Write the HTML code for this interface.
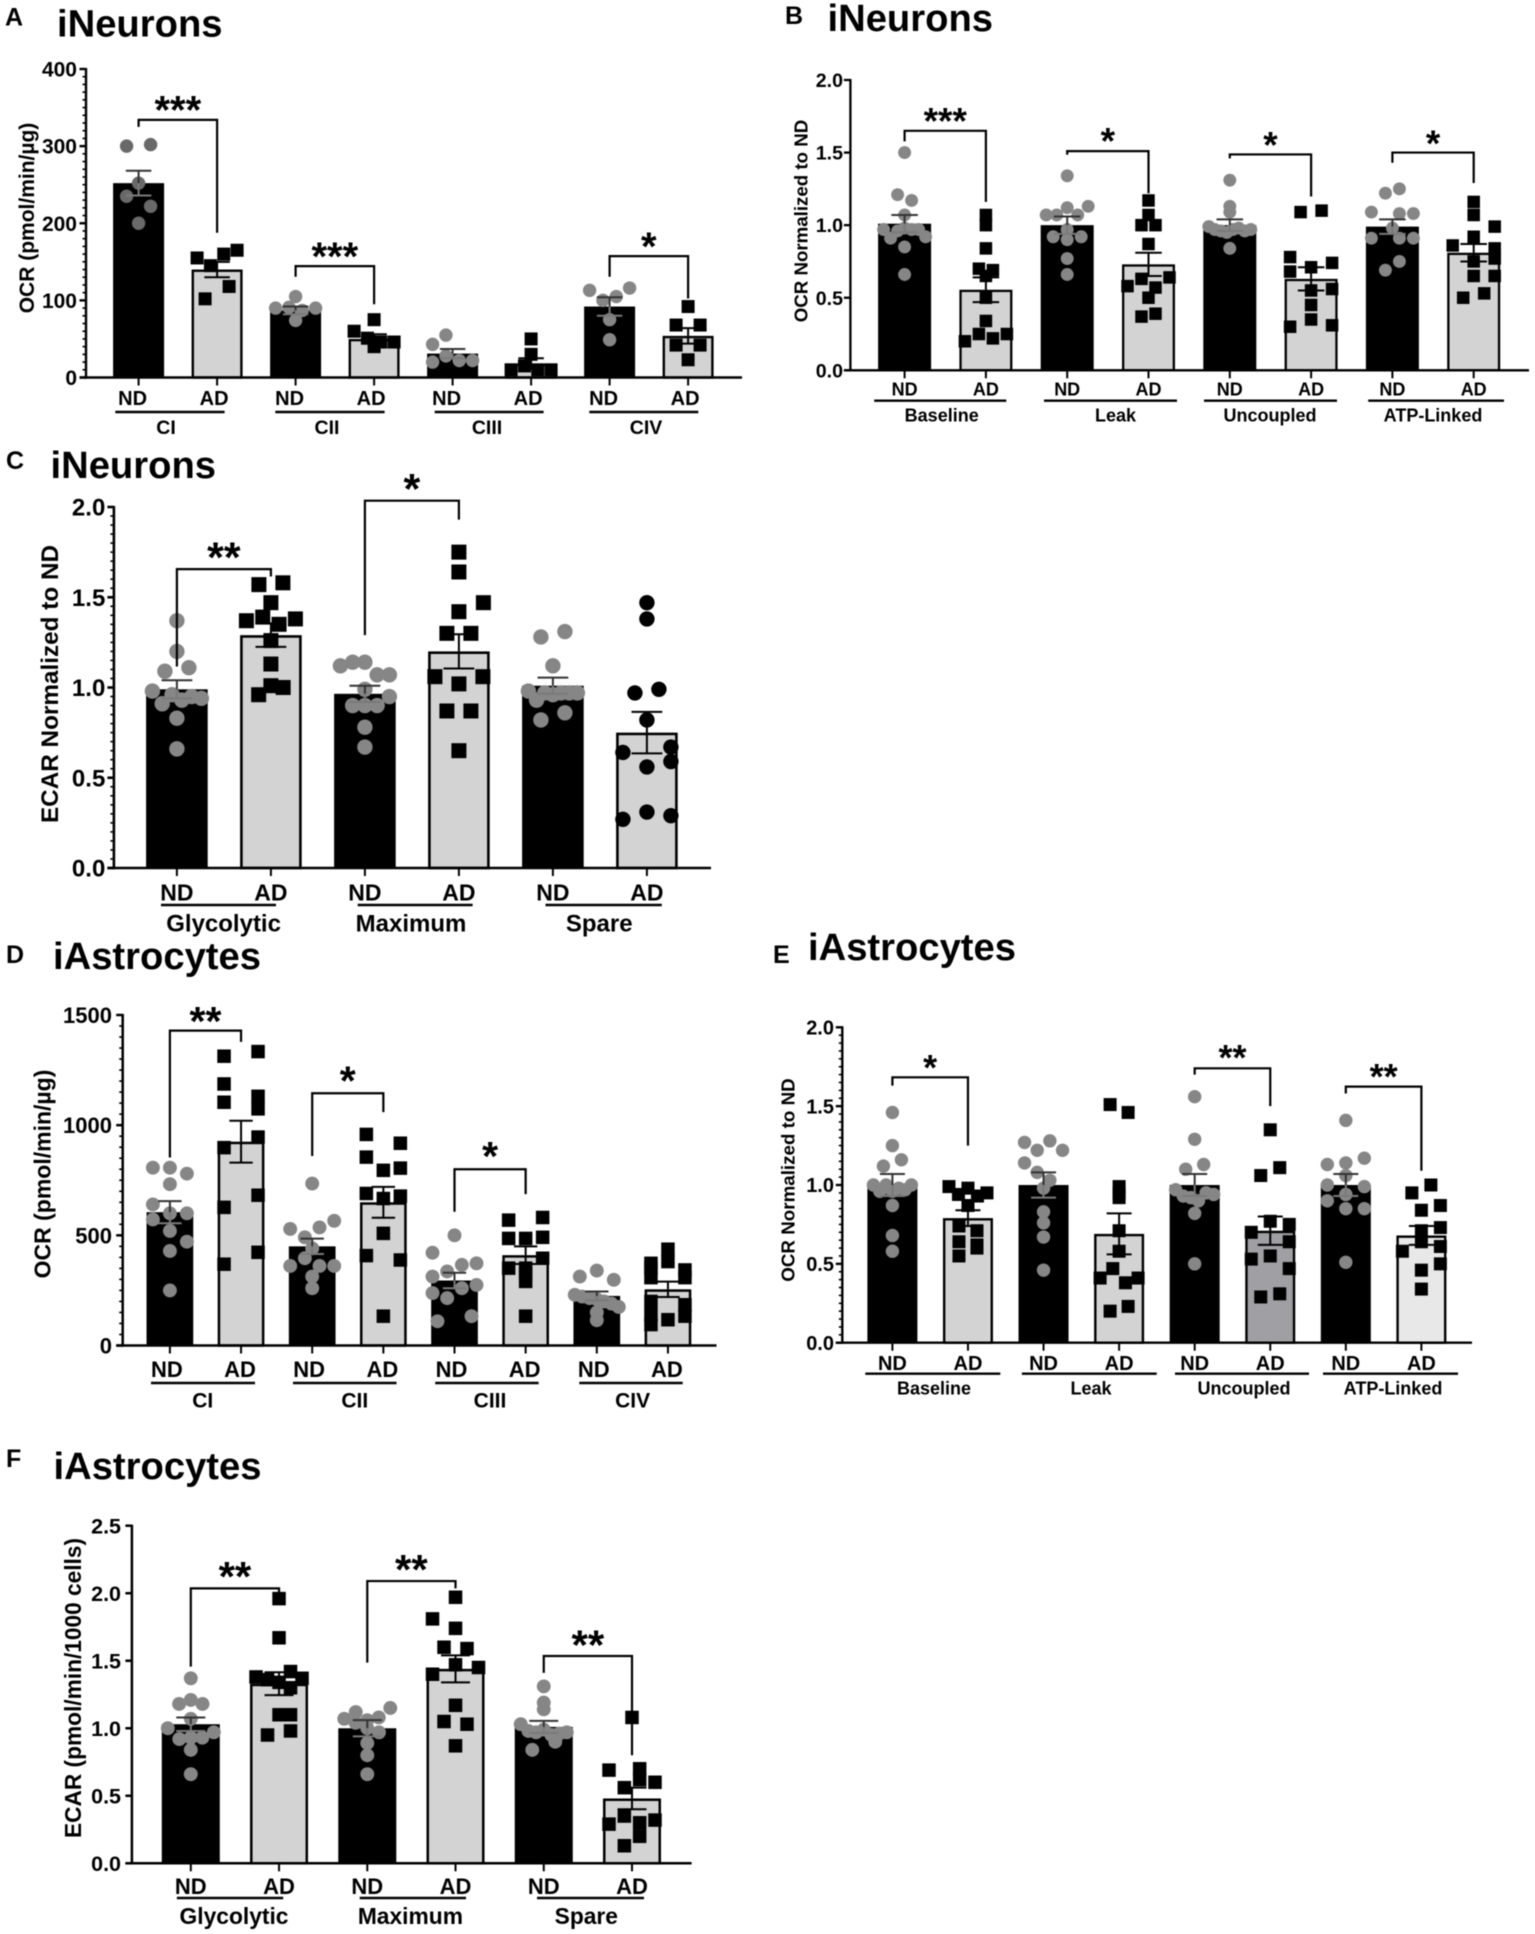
<!DOCTYPE html>
<html lang="en">
<head>
<meta charset="utf-8">
<title>iNeurons and iAstrocytes OCR / ECAR bar charts</title>
<style>
html,body{margin:0;padding:0;background:#fff;}
svg{display:block;font-family:"Liberation Sans",Arial,sans-serif;filter:blur(0.4px);}
text{fill:#000;}
.fig-title{font-weight:700;font-size:38.2px;}
.fig-letter{font-weight:700;font-size:25px;}
.y-title{font-weight:700;}
</style>
</head>
<body>
<svg id="figure" xmlns="http://www.w3.org/2000/svg" width="1535" height="1934" viewBox="0 0 1535 1934">
  <rect width="1535" height="1934" fill="#fff"/>
  <g id="panel-a">
    <text class="fig-letter" x="5" y="25.7">A</text>
    <text class="fig-title" x="57" y="36.7">iNeurons</text>
    <text class="y-title" font-size="21" text-anchor="middle" transform="translate(34,218) rotate(-90)">OCR (pmol/min/µg)</text>
  </g>
  <g id="panel-b">
    <text class="fig-letter" x="785" y="24">B</text>
    <text class="fig-title" x="827.5" y="31">iNeurons</text>
    <text class="y-title" font-size="18.7" text-anchor="middle" transform="translate(807.5,221) rotate(-90)">OCR Normalized to ND</text>
  </g>
  <g id="panel-c">
    <text class="fig-letter" x="6" y="469">C</text>
    <text class="fig-title" x="50.5" y="478">iNeurons</text>
    <text class="y-title" font-size="24.3" text-anchor="middle" transform="translate(58,684) rotate(-90)">ECAR Normalized to ND</text>
  </g>
  <g id="panel-d">
    <text class="fig-letter" x="6" y="963">D</text>
    <text class="fig-title" x="53" y="969">iAstrocytes</text>
    <text class="y-title" font-size="23" text-anchor="middle" transform="translate(50.5,1174) rotate(-90)">OCR (pmol/min/µg)</text>
  </g>
  <g id="panel-e">
    <text class="fig-letter" x="773" y="963">E</text>
    <text class="fig-title" x="808" y="960">iAstrocytes</text>
    <text class="y-title" font-size="18.8" text-anchor="middle" transform="translate(794.5,1180) rotate(-90)">OCR Normalized to ND</text>
  </g>
  <g id="panel-f">
    <text class="fig-letter" x="6" y="1467">F</text>
    <text class="fig-title" x="53.5" y="1479">iAstrocytes</text>
    <text class="y-title" font-size="22.7" text-anchor="middle" transform="translate(81,1688) rotate(-90)">ECAR (pmol/min/1000 cells)</text>
  </g>
</svg>
<script>
/* ---------- chart data ---------- */
const conditions = ['ND', 'AD'];

/* Points: one list per bar; each inner list is one swarm row of values (null = empty slot in that row). */
/* Brackets: [left bar, right bar, top value, left end value, right end value, stars, star value] */

const aGroups = ['CI', 'CII', 'CIII', 'CIV'];
const aTicks = [0, 100, 200, 300, 400];
const aTickLabels = ['0', '100', '200', '300', '400'];
const aMeans = [252, 140, 87, 50, 31, 18, 92, 54];
const aErrors = [16, 10, 5, 6, 6, 7, 12, 10];
const aPoints = [
  [[300, 302], [252], [235, 222], [200]],
  [[155, 145, 160, 165], [102, 118]],
  [[105], [90, 91, 87, 90], [74]],
  [[75], [60, 51, 46, 46], [40]],
  [[43, 55, null, null], [20, 28, 22, 22]],
  [[50], [30], [10, 15, 10, 10]],
  [[113, 100, 105, 116], [75], [49]],
  [[92], [68, 68], [42, 42], [23]]
];
const aBrackets = [
  [0, 1, 334, 325, 187.7, '***', 353],
  [2, 3, 144.4, 130.6, 95, '***', 163],
  [6, 7, 157.4, 130.6, 102.5, '*', 176]
];

const bGroups = ['Baseline', 'Leak', 'Uncoupled', 'ATP-Linked'];
const bTicks = [0, 0.5, 1, 1.5, 2];
const bTickLabels = ['0.0', '0.5', '1.0', '1.5', '2.0'];
const bMeans = [1.01, 0.555, 1.0, 0.73, 1.0, 0.63, 0.99, 0.81];
const bErrors = [0.06, 0.085, 0.06, 0.08, 0.04, 0.08, 0.05, 0.06];
const bPoints = [
  [[1.5], [1.21, 1.17], [1.07], [0.97, 0.91, 0.96, 0.98, 0.97, 0.97, 0.92], [0.85], [0.66]],
  [[1.07], [1.0], [0.84], [0.70, 0.69], [0.65], [0.5], [0.34], [0.2, 0.25, 0.22, 0.25]],
  [[1.34], [1.07, 1.07, 1.12, 1.07, 1.13], [0.92, 0.97, 0.92], [0.90], [0.77], [0.66]],
  [[1.17], [1.07], [1.0, 1.0], [0.87], [0.58, 0.63, 0.57, 0.64], [0.5], [0.37, 0.39]],
  [[1.31], [1.13], [1.09], [0.99, 0.97, 0.96, 0.95, 0.97, 0.98, 0.96, 0.97], [0.84]],
  [[null, 1.09, null, 1.1, null], [0.78, null, 0.71, null, 0.74], [0.68, null, 0.55, null, 0.56], [0.45], [0.35], [0.30, null, null, null, 0.31]],
  [[1.22, 1.25], [1.09, null, 1.08, 1.08], [0.98], [0.91, null, 0.91, 0.91], [0.69, 0.75]],
  [[1.16], [1.07], [null, null, null, null, 0.99], [0.92], [0.86, null, null, null, 0.84], [null, null, 0.75, null, 0.77], [null, null, 0.65, null, 0.65], [null, 0.50, null, 0.53, null]]
];
const bBrackets = [
  [0, 1, 1.65, 1.577, 1.16, '***', 1.75],
  [2, 3, 1.51, 1.485, 1.22, '*', 1.61],
  [4, 5, 1.487, 1.46, 1.197, '*', 1.585],
  [6, 7, 1.5, 1.43, 1.29, '*', 1.595]
];

const cGroups = ['Glycolytic', 'Maximum', 'Spare'];
const cTicks = [0, 0.5, 1, 1.5, 2];
const cTickLabels = ['0.0', '0.5', '1.0', '1.5', '2.0'];
const cMeans = [0.99, 1.29, 0.965, 1.20, 1.01, 0.75];
const cErrors = [0.05, 0.065, 0.045, 0.095, 0.045, 0.115];
const cPoints = [
  [[1.37], [1.20], [1.09, 1.11], [0.98, 0.91, 0.96, 0.93, 0.95, 0.94], [0.83], [0.66]],
  [[1.57, 1.58], [1.47], [1.37, 1.39, 1.35, 1.38], [1.26], [1.13], [null, 0.96, 1.01, 1.0, null]],
  [[1.12, 1.14, 1.14, 1.07, 1.07], [0.99], [null, 0.9, 0.9, 0.9, 0.95], [0.78], [0.67]],
  [[1.75], [1.64], [null, null, 1.42, null, 1.47], [1.3, 1.3], [1.06, 1.02, 1.06], [0.87, 0.87], [0.65]],
  [[1.28, 1.31], [1.12], [0.98, 0.93, 0.97, 0.96, 0.97, 0.97, 0.97], [0.82, 0.86]],
  [[1.47], [1.38], [0.97, 0.99], [0.82], [0.64, null, 0.67], [null, 0.56, 0.59], [0.27, 0.31, 0.29]]
];
const cBrackets = [
  [0, 1, 1.656, 1.116, 1.615, '**', 1.75],
  [2, 3, 2.035, 1.29, 1.93, '*', 2.13]
];

const dGroups = ['CI', 'CII', 'CIII', 'CIV'];
const dTicks = [0, 500, 1000, 1500];
const dTickLabels = ['0', '500', '1000', '1500'];
const dMeans = [605, 925, 450, 650, 295, 410, 225, 255];
const dErrors = [50, 95, 35, 70, 35, 40, 20, 35];
const dPoints = [
  [[807, 807, 780], [732], [640, 600, 600], [572, 520, 471], [429], [250]],
  [[1313, 1334], [1187, 1131], [1104, 1074], [898, 946], [627, 682], [369, 423]],
  [[735], [529, 491, 536, 566], [441], [361, 396, 361, 361], [313], [260]],
  [[958, 918], [855, 795, 805], [690, 667, 678], [509], [408, 388], [133]],
  [[500], [421, null, null, 373], [313, 336, 366, 275], [238, 215, 260, null], [110, 133]],
  [[569, 581], [486, 486, 491], [351, 351, 396], [328], [291], [133]],
  [[340], [313, 298], [230, 222, 215, 210, 200, 190, 175], [150], [115]],
  [[437], [373, 381, null], [351, null, 343], [308, 308], [200, 185], [140, null, 133], [95, 117, null]]
];
const dBrackets = [
  [0, 1, 1429, 853, 1378, '**', 1495],
  [2, 3, 1145, 860, 1059, '*', 1225],
  [4, 5, 800, 607, 687, '*', 883]
];

const eGroups = ['Baseline', 'Leak', 'Uncoupled', 'ATP-Linked'];
const eTicks = [0, 0.5, 1, 1.5, 2];
const eTickLabels = ['0.0', '0.5', '1.0', '1.5', '2.0'];
const eMeans = [1.0, 0.79, 1.0, 0.69, 1.0, 0.71, 1.0, 0.68];
const eErrors = [0.07, 0.05, 0.08, 0.13, 0.07, 0.09, 0.07, 0.06];
const ePoints = [
  [[1.46], [1.25], [1.12, 1.16], [1.0, 0.96, 1.0, 0.96, 0.98, 0.97, 1.0], [0.87], [0.68], [0.58]],
  [[0.99, 0.94, 0.98, 0.93, 0.95], [0.87], [0.74, 0.71], [0.64, 0.60], [0.55, 0.62]],
  [[1.27, 1.22, 1.28, 1.22], [1.14, 1.08, 1.03, null], [0.98], [0.83], [0.76], [0.67], [0.46]],
  [[1.51, 1.46], [0.99], [0.95], [0.92], [0.71], [0.58], [0.41, 0.47, 0.38, 0.41], [0.2, 0.23]],
  [[1.56], [1.29], [1.1, 1.13], [0.97, 0.93, 0.92, 0.9, 0.95, 0.94], [0.82], [0.5]],
  [[1.35], [null, 1.06, null, 1.11, null], [null, null, 0.77, null, 0.75], [0.7, null, null, null, 0.64], [0.53, null, 0.55, null, 0.47], [null, 0.29, null, 0.31, null]],
  [[1.41], [1.13, 1.14, 1.17], [1.06], [1.0, 0.94, 0.99], [0.9, 0.85, 0.85], [0.51]],
  [[null, 0.95, null, 1.0, null], [null, null, 0.84, null, 0.87], [null, null, 0.71, null, 0.73], [0.58, null, 0.64, null, 0.61], [null, null, 0.46, null, 0.5], [0.34]]
];
const eBrackets = [
  [0, 1, 1.683, 1.63, 1.25, '*', 1.77],
  [4, 5, 1.74, 1.70, 1.50, '**', 1.835],
  [6, 7, 1.624, 1.58, 1.09, '**', 1.715]
];

const fGroups = ['Glycolytic', 'Maximum', 'Spare'];
const fTicks = [0, 0.5, 1, 1.5, 2, 2.5];
const fTickLabels = ['0.0', '0.5', '1.0', '1.5', '2.0', '2.5'];
const fMeans = [1.03, 1.33, 1.0, 1.44, 1.01, 0.48];
const fErrors = [0.05, 0.085, 0.06, 0.1, 0.045, 0.08];
const fPoints = [
  [[1.37], [1.18, 1.21, 1.18], [1.07], [1.0, 0.92, 0.93, 0.93, 0.97], [0.84], [0.66]],
  [[1.96], [1.67], [1.38, 1.36, 1.34, 1.42, 1.37], [null, null, null, 1.3, null], [null, null, 1.1, 1.1, null], [null, 0.95, null, 0.98, null]],
  [[1.07, 1.12, 1.06, 1.08, 1.15], [1.04, 1.0, 0.97], [0.89], [0.8], [0.66]],
  [[1.97], [1.81, null, 1.74, null, null], [null, 1.6, null, 1.59, null], [1.4, null, 1.47, null, 1.45], [1.17], [null, 1.05, null, 1.03, null], [0.87]],
  [[1.31], [1.19], [1.14], [1.03, 0.98, 0.97, 0.99, 0.95, 0.96, 0.97], [0.84, 0.9]],
  [[1.08], [0.69, null, 0.7, null], [null, 0.56, 0.62, 0.6], [0.29, 0.35, 0.3, 0.32], [null, null, 0.2, null], [null, 0.13, null, null]]
];
const fBrackets = [
  [0, 1, 2.036, 1.456, 2.0, '**', 2.16],
  [2, 3, 2.09, 1.486, 2.036, '**', 2.21],
  [4, 5, 1.535, 1.41, 0.80, '**', 1.654]
];

/* ---------- drawing ---------- */
const NS = 'http://www.w3.org/2000/svg';

function make(tag, attrs, parent) {
  const node = document.createElementNS(NS, tag);
  for (const key in attrs) node.setAttribute(key, attrs[key]);
  parent.appendChild(node);
  return node;
}

/* Horizontal offsets of a swarm row, centred on the bar. */
function rowOffsets(n, look) {
  if (n <= 1) return [0];
  if (n === 2) return [-look.pairHalf, look.pairHalf];
  const half = n === 3 ? look.tripleHalf : look.maxHalf;
  const out = [];
  for (let i = 0; i < n; i++) out.push(-half + (2 * half * i) / (n - 1));
  return out;
}

function drawPanel(panelId, series, look) {
  const root = document.getElementById(panelId);
  const yScale = v => look.y0 - (v / series.ticks[series.ticks.length - 1]) * (look.y0 - look.yTop);
  const xScale = i => look.barX0 + i * look.barStep;
  const halfSw = look.axisW / 2;

  /* bars */
  series.means.forEach((mean, i) => {
    const isAd = i % 2 === 1;
    const top = yScale(mean);
    const w = look.barW;
    const bar = make('rect', isAd
      ? { x: xScale(i) - w / 2 + halfSw, y: top + halfSw, width: w - look.axisW, height: look.y0 - top - halfSw, fill: (look.adFills && look.adFills[(i - 1) / 2]) || '#d3d3d3', stroke: '#000', 'stroke-width': look.axisW }
      : { x: xScale(i) - w / 2, y: top, width: w, height: look.y0 - top, fill: '#000' }, root);
    
    
  });

  /* points */
  series.points.forEach((rows, i) => {
    const isSquare = i % 2 === 1 && !(look.blackCircleBars || []).includes(i);
    rows.forEach(row => {
      const offsets = rowOffsets(row.length, look);
      row.forEach((value, k) => {
        if (value === null) return;
        const cx = xScale(i) + offsets[k];
        const cy = yScale(value);
        let mark;
        if (isSquare) {
          mark = make('rect', { x: cx - look.size / 2, y: cy - look.size / 2, width: look.size, height: look.size, fill: '#000' }, root);
        } else {
          const colour = i % 2 === 1 ? '#000' : ((look.darkBars || []).includes(i) ? '#696969' : '#868686');
          mark = make('circle', { cx: cx, cy: cy, r: look.size / 2 + 0.2, fill: colour }, root);
        }
        
        
      });
    });
  });

  /* error bars */
  series.means.forEach((mean, i) => {
    const cx = xScale(i);
    const cap = look.barW * 0.25;
    const err = series.errors[i];
    const lowColour = i % 2 === 0 ? '#7a7a7a' : '#000';
    const highColour = i % 2 === 0 ? '#333' : '#000';
    const group = make('g', { fill: 'none', 'stroke-width': 2 }, root);
    
    
    make('line', { x1: cx, x2: cx, y1: yScale(mean), y2: yScale(mean + err), stroke: highColour }, group);
    make('line', { x1: cx - cap, x2: cx + cap, y1: yScale(mean + err), y2: yScale(mean + err), stroke: highColour }, group);
    make('line', { x1: cx, x2: cx, y1: yScale(mean), y2: yScale(mean - err), stroke: lowColour }, group);
    make('line', { x1: cx - cap, x2: cx + cap, y1: yScale(mean - err), y2: yScale(mean - err), stroke: lowColour }, group);
  });

  /* y axis */
  const yAxis = make('g', { stroke: '#000' }, root);
  
  
  make('line', { x1: look.axisX, x2: look.axisX, y1: look.yTop - 1, y2: look.y0 + halfSw, 'stroke-width': look.axisW }, yAxis);
  const yMax = series.ticks[series.ticks.length - 1];
  if (look.minor) {
    const count = Math.round(yMax / look.minor);
    for (let m = 0; m <= count; m++) {
      const yy = yScale(m * look.minor);
      make('line', { x1: look.axisX - 3.5, x2: look.axisX, y1: yy, y2: yy, 'stroke-width': 1.6 }, yAxis);
    }
  }
  series.ticks.forEach((t, i) => {
    const yy = yScale(t);
    make('line', { x1: look.axisX - 6.5, x2: look.axisX, y1: yy, y2: yy, 'stroke-width': look.axisW }, yAxis);
    const label = make('text', { x: look.tickRight, y: yy + look.tickFont * 0.36, 'font-size': look.tickFont, 'font-weight': 700, 'text-anchor': 'end', stroke: 'none' }, yAxis);
    label.textContent = series.tickLabels[i];
    
    
  });

  /* x axis */
  const xAxis = make('g', { stroke: '#000' }, root);
  
  
  make('line', { x1: look.axisX - 6.5, x2: look.axisEnd, y1: look.y0, y2: look.y0, 'stroke-width': look.axisW }, xAxis);
  series.means.forEach((_, i) => {
    make('line', { x1: xScale(i), x2: xScale(i), y1: look.y0, y2: look.y0 + 8, 'stroke-width': 2 }, xAxis);
    const label = make('text', { x: xScale(i) + look.condShift[i % 2], y: look.condY + look.condFont * 0.36, 'font-size': look.condFont, 'font-weight': 700, 'text-anchor': 'middle', stroke: 'none' }, xAxis);
    label.textContent = conditions[i % 2];
    
    
  });

  /* group underlines + names */
  series.groups.forEach((name, g) => {
    const rule = make('line', { x1: look.ruleSpans[g][0], x2: look.ruleSpans[g][1], y1: look.ruleY, y2: look.ruleY, stroke: '#000', 'stroke-width': 2.4 }, root);
    
    
    const label = make('text', { x: look.groupX[g], y: look.groupY + look.groupFont * 0.36, 'font-size': look.groupFont, 'font-weight': 700, 'text-anchor': 'middle' }, root);
    label.textContent = name;
    
    
  });

  /* significance brackets */
  series.brackets.forEach(b => {
    const xl = xScale(b[0]);
    const xr = xScale(b[1]);
    const yt = yScale(b[2]);
    const path = make('path', { d: 'M' + xl + ' ' + yScale(b[3]) + 'V' + yt + 'H' + xr + 'V' + yScale(b[4]), fill: 'none', stroke: '#000', 'stroke-width': 2.2 }, root);
    
    
    const star = make('text', { x: (xl + xr) / 2, y: yScale(b[6]) + look.starFont * 0.46, 'font-size': look.starFont, 'font-weight': 700, 'text-anchor': 'middle' }, root);
    star.textContent = b[5];
    
    
  });
}

drawPanel('panel-a',
  { groups: aGroups, ticks: aTicks, tickLabels: aTickLabels, means: aMeans, errors: aErrors, points: aPoints, brackets: aBrackets },
  { axisX: 86, axisEnd: 742, axisW: 2.4, y0: 377.5, yTop: 69, barX0: 138.6, barStep: 78.5, barW: 51, size: 13, pairHalf: 12, tripleHalf: 13, maxHalf: 20, minor: 10, tickRight: 77, tickFont: 21, condY: 398, condFont: 20, condShift: [-6, -3], ruleY: 412, ruleSpans: [[115.3, 224.6], [275.3, 384.6], [434.7, 543.6], [589.3, 698.3]], groupY: 427, groupX: [166, 327, 487, 646], groupFont: 19.5, starFont: 40, darkBars: [0] });

drawPanel('panel-b',
  { groups: bGroups, ticks: bTicks, tickLabels: bTickLabels, means: bMeans, errors: bErrors, points: bPoints, brackets: bBrackets },
  { axisX: 850.4, axisEnd: 1529, axisW: 2.3, y0: 370.3, yTop: 80, barX0: 904.6, barStep: 81.3, barW: 53, size: 12.5, pairHalf: 7, tripleHalf: 14, maxHalf: 21, minor: 0, tickRight: 843, tickFont: 19.6, condY: 389, condFont: 18, condShift: [0, 0], ruleY: 400.7, ruleSpans: [[874.2, 1006.3], [1044, 1177], [1204, 1337], [1368.2, 1504]], groupY: 415, groupX: [941.7, 1115.5, 1270, 1433], groupFont: 18, starFont: 37 });

drawPanel('panel-c',
  { groups: cGroups, ticks: cTicks, tickLabels: cTickLabels, means: cMeans, errors: cErrors, points: cPoints, brackets: cBrackets },
  { axisX: 113.9, axisEnd: 711, axisW: 2.6, y0: 868, yTop: 507, barX0: 176.9, barStep: 94, barW: 61.6, size: 15, pairHalf: 12, tripleHalf: 24, maxHalf: 24.5, minor: 0.05, tickRight: 105.3, tickFont: 24, condY: 892, condFont: 23, condShift: [0, 0], ruleY: 905, ruleSpans: [[161, 276], [357.7, 472.6], [545.5, 661.8]], groupY: 923, groupX: [223.6, 411, 599.2], groupFont: 24, starFont: 43, blackCircleBars: [5] });

drawPanel('panel-d',
  { groups: dGroups, ticks: dTicks, tickLabels: dTickLabels, means: dMeans, errors: dErrors, points: dPoints, brackets: dBrackets },
  { axisX: 122.7, axisEnd: 716.5, axisW: 2.5, y0: 1345.5, yTop: 1015, barX0: 169.9, barStep: 71.15, barW: 46.7, size: 13.5, pairHalf: 17, tripleHalf: 17, maxHalf: 22, minor: 50, tickRight: 112, tickFont: 22, condY: 1369, condFont: 22, condShift: [-3, -1], ruleY: 1383, ruleSpans: [[151, 255], [293, 396.5], [435.2, 538.6], [579.3, 682.7]], groupY: 1400, groupX: [202.7, 354.8, 490, 632.6], groupFont: 21, starFont: 41 });

drawPanel('panel-e',
  { groups: eGroups, ticks: eTicks, tickLabels: eTickLabels, means: eMeans, errors: eErrors, points: ePoints, brackets: eBrackets },
  { axisX: 842.3, axisEnd: 1472, axisW: 2.4, y0: 1342.7, yTop: 1027.3, barX0: 892.4, barStep: 75.57, barW: 50, size: 13, pairHalf: 9, tripleHalf: 18.5, maxHalf: 19, minor: 0.05, tickRight: 834, tickFont: 20, condY: 1363, condFont: 20, condShift: [0, 0], ruleY: 1373.7, ruleSpans: [[865.3, 1000.3], [1021.9, 1156.7], [1175, 1309], [1323, 1458]], groupY: 1388, groupX: [934, 1091, 1244, 1393], groupFont: 18, starFont: 36, adFills: ['#d3d3d3', '#d3d3d3', '#a0a0a4', '#e8e8e8'] });

drawPanel('panel-f',
  { groups: fGroups, ticks: fTicks, tickLabels: fTickLabels, means: fMeans, errors: fErrors, points: fPoints, brackets: fBrackets },
  { axisX: 131.9, axisEnd: 691.6, axisW: 2.5, y0: 1863.3, yTop: 1525.7, barX0: 190.8, barStep: 88.24, barW: 58, size: 13.5, pairHalf: 11.5, tripleHalf: 11.7, maxHalf: 23, minor: 0, tickRight: 121, tickFont: 21.5, condY: 1886, condFont: 22, condShift: [0, 0], ruleY: 1898, ruleSpans: [[176.9, 283.2], [359.7, 466], [537, 644]], groupY: 1916, groupX: [234, 410.4, 586.3], groupFont: 22.8, starFont: 42 });
</script>
</body>
</html>
